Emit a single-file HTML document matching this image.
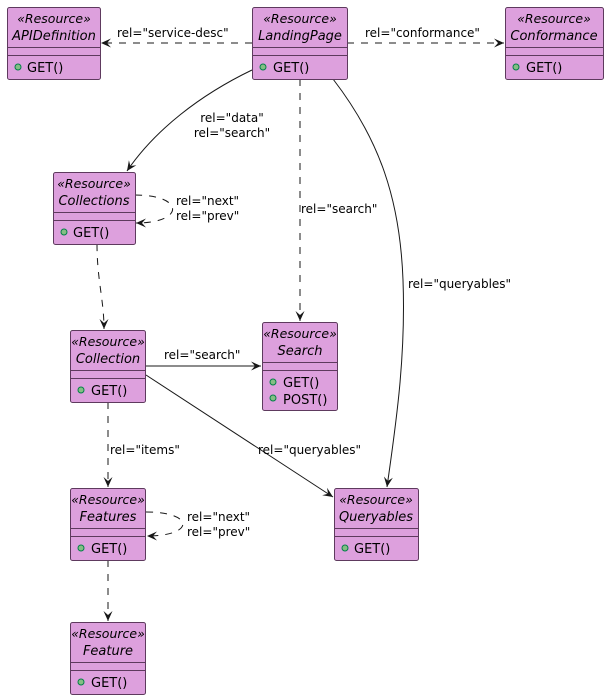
<!DOCTYPE html>
<html><head><meta charset="utf-8"><style>
html,body{margin:0;padding:0;background:#fff;}
svg{display:block;font-family:"DejaVu Sans","Liberation Sans",sans-serif;}
.box{fill:#DDA0DD;stroke:#5E3A5E;stroke-width:1;}
.sep{stroke:#5E3A5E;stroke-width:1;}
.st{font-size:12.5px;font-style:italic;text-anchor:middle;}
.nm{font-size:13px;font-style:italic;text-anchor:middle;}
.m{font-size:13px;}
.l{font-size:12px;}
.dot{fill:#84BE84;stroke:#038048;stroke-width:1;}
.e{fill:none;stroke:#181818;stroke-width:1;}
.d{stroke-dasharray:7,7;}
</style></head><body>
<svg width="610" height="700" viewBox="0 0 610 700">
<defs>
<marker id="a" markerUnits="userSpaceOnUse" markerWidth="12" markerHeight="12" refX="11" refY="5" orient="auto">
<path d="M1,0.5 L11,5 L1,9.5 L5,5 Z" fill="#181818"/>
</marker>
</defs>

<path class="e d" d="M252,43 L101,43" marker-end="url(#a)"/>
<text class="l" x="117" y="37">rel="service-desc"</text>
<path class="e d" d="M347,43 L504,43" marker-end="url(#a)"/>
<text class="l" x="365" y="37">rel="conformance"</text>
<path class="e" d="M252,70 C200,95 155,130 127,171" marker-end="url(#a)"/>
<text class="l" x="232" y="122" text-anchor="middle">rel="data"</text>
<text class="l" x="232" y="137" text-anchor="middle">rel="search"</text>
<path class="e d" d="M300,79 L300,321" marker-end="url(#a)"/>
<text class="l" x="301" y="213">rel="search"</text>
<path class="e" d="M333,79 C380,140 400,200 403,280 C406,360 395,430 387,487" marker-end="url(#a)"/>
<text class="l" x="408" y="288">rel="queryables"</text>
<path class="e d" d="M135,195 C185,195 185,223 136,223" marker-end="url(#a)"/>
<text class="l" x="176" y="205">rel="next"</text>
<text class="l" x="176" y="220">rel="prev"</text>
<path class="e d" d="M97,244 C97,280 104,300 104,329" marker-end="url(#a)"/>
<path class="e" d="M146,366 L261,366" marker-end="url(#a)"/>
<text class="l" x="164" y="359">rel="search"</text>
<path class="e" d="M146,375 L333,497" marker-end="url(#a)"/>
<text class="l" x="258" y="454">rel="queryables"</text>
<path class="e d" d="M108,402 L108,487" marker-end="url(#a)"/>
<text class="l" x="110" y="454">rel="items"</text>
<path class="e d" d="M146,512 C195,512 195,536 147,536" marker-end="url(#a)"/>
<text class="l" x="187" y="521">rel="next"</text>
<text class="l" x="187" y="536">rel="prev"</text>
<path class="e d" d="M108,560 L108,621" marker-end="url(#a)"/>

<g>
<rect class="box" x="7.5" y="7.5" width="93" height="72" rx="2"/>
<line class="sep" x1="7.5" y1="47.5" x2="100.5" y2="47.5"/><line class="sep" x1="7.5" y1="55.5" x2="100.5" y2="55.5"/>
<text class="st" x="54" y="23">«Resource»</text><text class="nm" x="54" y="40">APIDefinition</text>
<circle class="dot" cx="18" cy="67" r="3"/><text class="m" x="27" y="72">GET()</text>
</g>
<g>
<rect class="box" x="252.5" y="7.5" width="95" height="72" rx="2"/>
<line class="sep" x1="252.5" y1="47.5" x2="347.5" y2="47.5"/><line class="sep" x1="252.5" y1="55.5" x2="347.5" y2="55.5"/>
<text class="st" x="300" y="23">«Resource»</text><text class="nm" x="300" y="40">LandingPage</text>
<circle class="dot" cx="263" cy="67" r="3"/><text class="m" x="273" y="72">GET()</text>
</g>
<g>
<rect class="box" x="505.5" y="7.5" width="98" height="72" rx="2"/>
<line class="sep" x1="505.5" y1="47.5" x2="603.5" y2="47.5"/><line class="sep" x1="505.5" y1="55.5" x2="603.5" y2="55.5"/>
<text class="st" x="554" y="23">«Resource»</text><text class="nm" x="554" y="40">Conformance</text>
<circle class="dot" cx="516" cy="67" r="3"/><text class="m" x="526" y="72">GET()</text>
</g>
<g>
<rect class="box" x="53.5" y="172.5" width="82" height="72" rx="2"/>
<line class="sep" x1="53.5" y1="212.5" x2="135.5" y2="212.5"/><line class="sep" x1="53.5" y1="220.5" x2="135.5" y2="220.5"/>
<text class="st" x="94" y="188">«Resource»</text><text class="nm" x="94" y="205">Collections</text>
<circle class="dot" cx="64" cy="232" r="3"/><text class="m" x="73" y="237">GET()</text>
</g>
<g>
<rect class="box" x="70.5" y="330.5" width="75" height="72" rx="2"/>
<line class="sep" x1="70.5" y1="370.5" x2="145.5" y2="370.5"/><line class="sep" x1="70.5" y1="378.5" x2="145.5" y2="378.5"/>
<text class="st" x="108" y="346">«Resource»</text><text class="nm" x="108" y="363">Collection</text>
<circle class="dot" cx="81" cy="390" r="3"/><text class="m" x="91" y="395">GET()</text>
</g>
<g>
<rect class="box" x="262.5" y="322.5" width="75" height="88" rx="2"/>
<line class="sep" x1="262.5" y1="362.5" x2="337.5" y2="362.5"/><line class="sep" x1="262.5" y1="370.5" x2="337.5" y2="370.5"/>
<text class="st" x="300" y="338">«Resource»</text><text class="nm" x="300" y="355">Search</text>
<circle class="dot" cx="273" cy="382" r="3"/><text class="m" x="283" y="387">GET()</text>
<circle class="dot" cx="273" cy="398" r="3"/><text class="m" x="283" y="404">POST()</text>
</g>
<g>
<rect class="box" x="70.5" y="488.5" width="75" height="72" rx="2"/>
<line class="sep" x1="70.5" y1="528.5" x2="145.5" y2="528.5"/><line class="sep" x1="70.5" y1="536.5" x2="145.5" y2="536.5"/>
<text class="st" x="108" y="504">«Resource»</text><text class="nm" x="108" y="521">Features</text>
<circle class="dot" cx="81" cy="548" r="3"/><text class="m" x="91" y="553">GET()</text>
</g>
<g>
<rect class="box" x="334.5" y="488.5" width="84" height="72" rx="2"/>
<line class="sep" x1="334.5" y1="528.5" x2="418.5" y2="528.5"/><line class="sep" x1="334.5" y1="536.5" x2="418.5" y2="536.5"/>
<text class="st" x="376" y="504">«Resource»</text><text class="nm" x="376" y="521">Queryables</text>
<circle class="dot" cx="345" cy="548" r="3"/><text class="m" x="354" y="553">GET()</text>
</g>
<g>
<rect class="box" x="70.5" y="622.5" width="75" height="72" rx="2"/>
<line class="sep" x1="70.5" y1="662.5" x2="145.5" y2="662.5"/><line class="sep" x1="70.5" y1="670.5" x2="145.5" y2="670.5"/>
<text class="st" x="108" y="638">«Resource»</text><text class="nm" x="108" y="655">Feature</text>
<circle class="dot" cx="81" cy="682" r="3"/><text class="m" x="91" y="687">GET()</text>
</g>
</svg>
</body></html>
